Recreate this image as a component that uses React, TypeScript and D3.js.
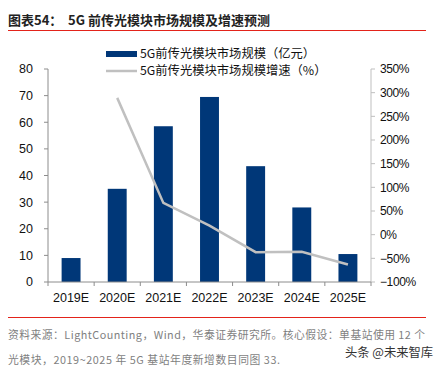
import { useEffect } from "react";
import * as d3 from "d3";

const years = ["2019E", "2020E", "2021E", "2022E", "2023E", "2024E", "2025E"];
const marketSize = [9, 35, 58.5, 69.5, 43.5, 28, 10.5];
const growth = [null, 289, 67, 19, -37, -36, -63];
const leftTicks = [0, 10, 20, 30, 40, 50, 60, 70, 80];
const rightTicks = [-100, -50, 0, 50, 100, 150, 200, 250, 300, 350];
const legendLabels = ["5G前传光模块市场规模（亿元）", "5G前传光模块市场规模增速（%）"];

const W = 434;
const H = 369;
const cjk = "'Noto Sans CJK SC', sans-serif";
const latin = "'Liberation Sans', Arial, sans-serif";

export default function App() {
  useEffect(() => {
    document.body.style.margin = "0";
  }, []);

  const margin = { left: 48, right: 371, top: 69, bottom: 282 };
  const x = d3.scaleBand<string>().domain(years).range([margin.left, margin.right]).paddingInner(0.59).paddingOuter(0.295);
  const xb = d3.scaleBand<string>().domain(years).range([margin.left, margin.right]);
  const y = d3.scaleLinear().domain([0, 80]).range([margin.bottom, margin.top]);
  const yr = d3.scaleLinear().domain([-100, 350]).range([margin.bottom, margin.top]);

  const linePts = years
    .map((yr0, i) => ({ yr0, v: growth[i] }))
    .filter((d) => d.v !== null) as { yr0: string; v: number }[];
  const line = d3
    .line<{ yr0: string; v: number }>()
    .x((d) => (xb(d.yr0) || 0) + xb.bandwidth() / 2)
    .y((d) => yr(d.v));

  return (
    <svg width={W} height={H} style={{ display: "block", background: "#fff" }}>
      {/* title */}
      <text x={8} y={25} fontFamily={cjk} fontSize={13} fontWeight={700} fill="#222">
        图表54：
      </text>
      <text x={68} y={25} fontFamily={cjk} fontSize={13} fontWeight={700} fill="#222">
        5G 前传光模块市场规模及增速预测
      </text>
      <line x1={8} x2={426} y1={30.5} y2={30.5} stroke="#E3231A" strokeWidth={1.2} />

      {/* bars */}
      {years.map((d, i) => (
        <rect key={d} x={x(d)} y={y(marketSize[i])} width={x.bandwidth()} height={y(0) - y(marketSize[i])} fill="#003778" />
      ))}

      {/* growth line */}
      <path d={line(linePts) || ""} fill="none" stroke="#C0C0C0" strokeWidth={2.5} />

      {/* left axis */}
      <line x1={margin.left} x2={margin.left} y1={y(80)} y2={y(0)} stroke="#8c8c8c" />
      {leftTicks.map((t) => (
        <g key={t}>
          <line x1={margin.left - 4} x2={margin.left} y1={y(t)} y2={y(t)} stroke="#8c8c8c" />
          <text x={33} y={y(t)} dy="0.35em" textAnchor="end" fontFamily={latin} fontSize={12.5} fill="#111">
            {t}
          </text>
        </g>
      ))}

      {/* right axis */}
      <line x1={margin.right} x2={margin.right} y1={yr(350)} y2={yr(-100)} stroke="#bfbfbf" />
      {rightTicks.map((t) => (
        <g key={t}>
          <line x1={margin.right} x2={margin.right + 4} y1={yr(t)} y2={yr(t)} stroke="#bfbfbf" />
          <text x={380} y={yr(t)} dy="0.35em" fontFamily={latin} fontSize={12} fill="#111" letterSpacing={-0.4}>
            {t < 0 ? "\u2212" + Math.abs(t) + "%" : t + "%"}
          </text>
        </g>
      ))}

      {/* bottom axis */}
      <line x1={margin.left} x2={margin.right} y1={y(0)} y2={y(0)} stroke="#8c8c8c" />
      {years.map((d) => (
        <g key={d}>
          <line x1={xb(d)} x2={xb(d)} y1={y(0)} y2={y(0) + 4} stroke="#8c8c8c" />
          <text x={(xb(d) || 0) + xb.bandwidth() / 2} y={302} textAnchor="middle" fontFamily={latin} fontSize={12.5} fill="#111">
            {d}
          </text>
        </g>
      ))}
      <line x1={margin.right} x2={margin.right} y1={y(0)} y2={y(0) + 4} stroke="#8c8c8c" />

      {/* legend */}
      <rect x={106} y={51} width={31} height={6} fill="#003778" />
      <text x={140} y={54} dy="0.35em" fontFamily={cjk} fontSize={12.3} fill="#111">
        {legendLabels[0]}
      </text>
      <line x1={106} x2={137} y1={71} y2={71} stroke="#C0C0C0" strokeWidth={2.5} />
      <text x={140} y={71} dy="0.35em" fontFamily={cjk} fontSize={12.3} fill="#111">
        {legendLabels[1]}
      </text>

      {/* footer */}
      <line x1={8} x2={426} y1={317.5} y2={317.5} stroke="#E3231A" strokeWidth={1.2} />
      <text x={8} y={339} fontFamily={cjk} fontSize={10.8} fill="#7f7f7f" textLength={417} lengthAdjust="spacing">
        资料来源：LightCounting，Wind，华泰证券研究所。核心假设：单基站使用 12 个
      </text>
      <text x={8} y={364} fontFamily={cjk} fontSize={10.8} fill="#7f7f7f" textLength={272} lengthAdjust="spacing">
        光模块，2019~2025 年 5G 基站年度新增数目同图 33.
      </text>
      <text x={345} y={357} fontFamily={cjk} fontSize={12.3} fill="#333">
        头条 @未来智库
      </text>
    </svg>
  );
}
